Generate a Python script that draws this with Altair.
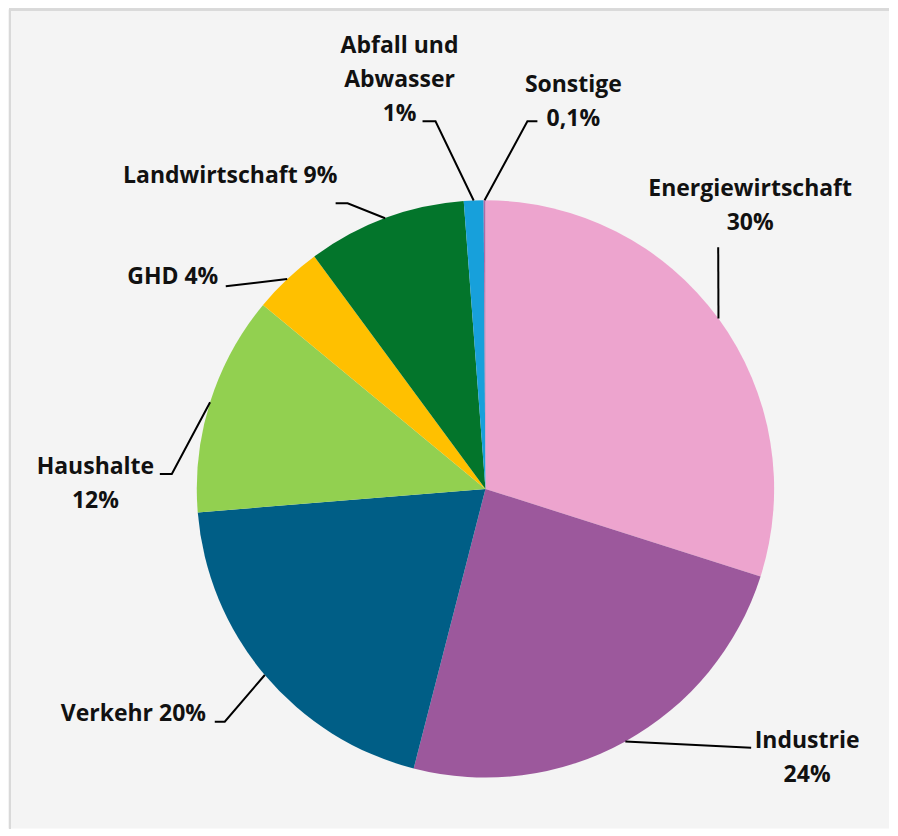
import altair as alt
import numpy as np
import pandas as pd

# ---------------- data ----------------
categories = ["Energiewirtschaft", "Industrie", "Verkehr", "Haushalte", "GHD",
              "Landwirtschaft", "Abfall und Abwasser", "Sonstige"]
shares = [29.9, 24.1, 19.7, 12.3, 3.9, 8.9, 1.1, 0.1]
label_texts = ["Energiewirtschaft\n30%", "Industrie\n24%", "Verkehr 20%", "Haushalte\n12%",
               "GHD 4%", "Landwirtschaft 9%", "Abfall und\nAbwasser\n1%", "Sonstige\n0,1%"]
colors = ["#EDA4CE", "#9C589C", "#005E86", "#92D050", "#FFC000", "#03752B", "#17A0DB", "#B06AA6"]

# ---------------- layout / style ----------------
W, H = 882, 820
CX, CY, R = 478, 480, 289
FONT = "Open Sans"
FONT_SIZE = 23
LINE_H = 34

# label anchor (center x, first baseline y) in view pixels
LABEL_POS = {
    "Energiewirtschaft": (743, 187),
    "Industrie": (800, 739),
    "Verkehr": (125.5, 712),
    "Haushalte": (87.5, 465),
    "GHD": (165, 275),
    "Landwirtschaft": (222.5, 174),
    "Abfall und Abwasser": (392, 44),
    "Sonstige": (566, 83),
}
# leader-line points after the arc point
LEADER_PTS = {
    "Energiewirtschaft": [(711, 238)],
    "Industrie": [(744, 739)],
    "Verkehr": [(217, 713), (207, 713)],
    "Haushalte": [(164, 465), (152, 465)],
    "GHD": [(218, 277)],
    "Landwirtschaft": [(340, 194), (328, 194)],
    "Abfall und Abwasser": [(428, 112), (415, 112)],
    "Sonstige": [(520, 112), (530, 112)],
}

# ---------------- tables ----------------
pie_df = pd.DataFrame({"category": categories, "share": shares, "order": range(len(categories))})

vals = np.array(shares, dtype=float)
cum = np.cumsum(vals)
mid = (cum - vals / 2) / vals.sum() * 2 * np.pi

line_rows = []
text_rows = []
for i, cat in enumerate(categories):
    ax = CX + R * np.sin(mid[i])
    ay = CY - R * np.cos(mid[i])
    pts = [(ax, ay)] + LEADER_PTS[cat]
    for k, (px, py) in enumerate(pts):
        line_rows.append({"category": cat, "pt": k, "x": px, "y": py})
    lx, ly = LABEL_POS[cat]
    for j, t in enumerate(label_texts[i].split("\n")):
        text_rows.append({"category": cat, "text": t, "x": lx, "y": ly + j * LINE_H})

line_df = pd.DataFrame(line_rows)
text_df = pd.DataFrame(text_rows)

xs = alt.Scale(domain=[0, W], range=[0, W], nice=False, zero=False)
ys = alt.Scale(domain=[0, H], range=[0, H], nice=False, zero=False)

arcs = alt.Chart(pie_df).mark_arc(radius=R, x=CX, y=CY, strokeWidth=0).encode(
    theta=alt.Theta("share:Q", stack=True),
    color=alt.Color("category:N", scale=alt.Scale(domain=categories, range=colors), legend=None),
    order=alt.Order("order:Q"),
)

leaders = alt.Chart(line_df).mark_line(color="black", strokeWidth=2).encode(
    x=alt.X("x:Q", scale=xs, axis=None),
    y=alt.Y("y:Q", scale=ys, axis=None),
    detail="category:N",
    order=alt.Order("pt:Q"),
)

labels = alt.Chart(text_df).mark_text(
    font=FONT, fontSize=FONT_SIZE, fontWeight="bold", align="center",
    baseline="alphabetic", color="#111111",
).encode(
    x=alt.X("x:Q", scale=xs, axis=None),
    y=alt.Y("y:Q", scale=ys, axis=None),
    text="text:N",
)

top_border = alt.Chart(pie_df).mark_rule(color="#D9D9D9", strokeWidth=2).encode(
    x=alt.value(1), x2=alt.value(W), y=alt.value(0)
)
left_border = alt.Chart(pie_df).mark_rule(color="#D9D9D9", strokeWidth=2).encode(
    x=alt.value(2), y=alt.value(0), y2=alt.value(H)
)

chart = alt.layer(arcs, leaders, labels, top_border, left_border).properties(
    width=W, height=H, padding=0, background="white"
).configure_view(stroke=None, fill="#F4F4F4")

chart.save("out.html", embed_options={"renderer": "svg", "actions": False})
